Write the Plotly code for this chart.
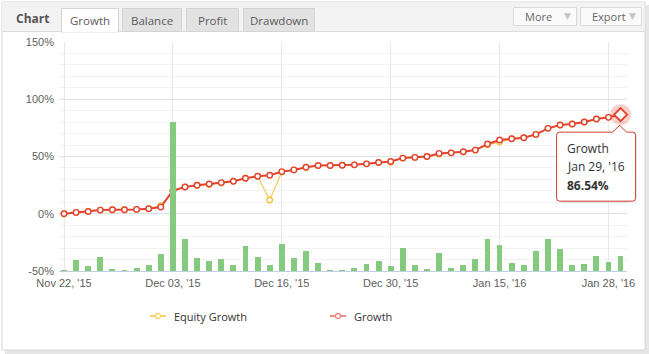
import plotly.graph_objects as go

# ---------------- data ----------------
dates = ["Nov 22, '15", "Nov 23, '15", "Nov 24, '15", "Nov 25, '15", "Nov 26, '15",
         "Nov 27, '15", "Nov 30, '15", "Dec 01, '15", "Dec 02, '15", "Dec 03, '15",
         "Dec 04, '15", "Dec 07, '15", "Dec 08, '15", "Dec 09, '15", "Dec 10, '15",
         "Dec 11, '15", "Dec 14, '15", "Dec 15, '15", "Dec 16, '15", "Dec 17, '15",
         "Dec 18, '15", "Dec 21, '15", "Dec 22, '15", "Dec 23, '15", "Dec 24, '15",
         "Dec 28, '15", "Dec 29, '15", "Dec 30, '15", "Dec 31, '15", "Jan 04, '16",
         "Jan 05, '16", "Jan 06, '16", "Jan 07, '16", "Jan 11, '16", "Jan 12, '16",
         "Jan 13, '16", "Jan 15, '16", "Jan 18, '16", "Jan 19, '16", "Jan 20, '16",
         "Jan 21, '16", "Jan 22, '16", "Jan 25, '16", "Jan 26, '16", "Jan 27, '16",
         "Jan 28, '16", "Jan 29, '16"]

growth = [0, 1.2, 2.0, 3.2, 3.5, 3.5, 3.8, 4.4, 5.8, 20.2,
          23.4, 24.9, 26.0, 27.2, 28.4, 31.0, 32.7, 33.6, 36.8, 38.3,
          40.6, 42.1, 42.1, 42.4, 42.7, 43.6, 44.8, 45.6, 48.6, 49.2,
          50.0, 52.7, 53.2, 54.1, 55.6, 60.9, 64.4, 65.5, 66.4, 69.3,
          74.6, 77.5, 78.4, 80.1, 82.8, 84.2, 86.54]

equity = [0, 1.2, 2.0, 3.2, 3.5, 3.5, 3.8, 4.4, 7.0, 20.2,
          23.4, 24.9, 25.4, 26.8, 28.4, 31.0, 32.7, 12.0, 36.3, 38.3,
          40.6, 42.1, 42.1, 42.4, 42.7, 43.6, 44.8, 45.0, 48.6, 49.2,
          50.0, 51.8, 53.2, 54.1, 55.6, 60.2, 62.5, 65.5, 66.4, 69.3,
          74.6, 77.5, 78.4, 80.1, 82.8, 84.2, 86.54]

bars = [0.5, 9.3, 4.6, 12.5, 2.0, 0.5, 2.9, 5.5, 15.1, 130.0,
        28.2, 11.6, 9.0, 10.7, 5.5, 22.1, 12.5, 5.5, 23.3, 11.6,
        17.2, 7.2, 0.5, 0.5, 2.9, 6.4, 9.0, 4.6, 20.3, 5.5,
        2.0, 16.0, 2.9, 5.5, 10.7, 28.2, 23.0, 7.2, 5.5, 17.7,
        28.2, 19.5, 5.5, 6.4, 13.4, 8.1, 13.4]

y_ticks = [-50, 0, 50, 100, 150]
y_labels = ["-50%", "0%", "50%", "100%", "150%"]
x_tick_idx = [0, 9, 18, 27, 36, 45]
tabs = ["Growth", "Balance", "Profit", "Drawdown"]

# ---------------- geometry helpers ----------------
W, H = 649, 354
L, R, T, B = 59, 22, 42, 83
PW, PH = W - L - R, H - T - B
XR = [-0.413, 46.53]
YR = [-50, 150]


def px(x):
    return (x - L) / PW


def py(y):
    return (H - B - y) / PH


RED = "#e2432e"
YEL = "#f7be2c"
GREEN = "#86ca7f"

fig = go.Figure()

fig.add_trace(go.Bar(x=dates, y=bars, yaxis="y2", marker_color=GREEN,
                     marker_line_width=0, width=0.48, showlegend=False,
                     hoverinfo="skip"))
fig.add_trace(go.Scatter(x=dates, y=equity, mode="lines+markers", name="Equity Growth",
                         line=dict(color=YEL, width=1),
                         marker=dict(symbol="circle", size=5.5, color="white",
                                     line=dict(color=YEL, width=1.3)),
                         showlegend=False))
fig.add_trace(go.Scatter(x=dates, y=growth, mode="lines+markers", name="Growth",
                         line=dict(color=RED, width=2),
                         marker=dict(symbol="circle", size=5.5, color="white",
                                     line=dict(color=RED, width=1.4)),
                         showlegend=False))
# hover halo + diamond on last point
fig.add_trace(go.Scatter(x=[dates[-1]], y=[growth[-1]], mode="markers", cliponaxis=False,
                         marker=dict(size=21, color="rgba(226,67,46,0.25)", line_width=0),
                         showlegend=False, hoverinfo="skip"))
fig.add_trace(go.Scatter(x=[dates[-1]], y=[growth[-1]], mode="markers", cliponaxis=False,
                         marker=dict(symbol="diamond", size=10, color="white",
                                     line=dict(color=RED, width=2)),
                         showlegend=False, hoverinfo="skip"))

shapes = []
annotations = []

# panel frame and shadow
shapes.append(dict(type="rect", xref="paper", yref="paper", layer="below",
                   x0=px(645), x1=px(649), y0=py(350), y1=py(5),
                   fillcolor="#e6e6e6", line_width=0))
shapes.append(dict(type="rect", xref="paper", yref="paper", layer="below",
                   x0=px(5), x1=px(649), y0=py(354), y1=py(350),
                   fillcolor="#e6e6e6", line_width=0))
shapes.append(dict(type="rect", xref="paper", yref="paper", layer="below",
                   x0=px(2), x1=px(645), y0=py(350), y1=py(2),
                   fillcolor="white", line=dict(color="#d6d6d6", width=1)))
# header band
shapes.append(dict(type="rect", xref="paper", yref="paper", layer="below",
                   x0=px(2.5), x1=px(644.5), y0=py(31.5), y1=py(2.5),
                   fillcolor="#f3f3f3", line_width=0))
shapes.append(dict(type="line", xref="paper", yref="paper", layer="below",
                   x0=px(2.5), x1=px(644.5), y0=py(31.5), y1=py(31.5),
                   line=dict(color="#dcdcdc", width=1)))

tab_x = [(61.5, 118.5), (122.5, 181.5), (186.5, 238.5), (243.5, 314.5)]
for i, (name, (a, b)) in enumerate(zip(tabs, tab_x)):
    active = i == 0
    shapes.append(dict(type="rect", xref="paper", yref="paper", layer="below",
                       x0=px(a), x1=px(b), y0=py(32 if active else 31.5), y1=py(8.5),
                       fillcolor="white" if active else "#e2e2e2",
                       line=dict(color="#d4d4d4", width=1)))
    if active:
        shapes.append(dict(type="line", xref="paper", yref="paper", layer="below",
                           x0=px(a + 0.6), x1=px(b - 0.6), y0=py(31.5), y1=py(31.5),
                           line=dict(color="white", width=1.5)))
    annotations.append(dict(xref="paper", yref="paper", x=px((a + b) / 2), y=py(20),
                            text=name, showarrow=False, xanchor="center", yanchor="middle",
                            font=dict(family="Open Sans", size=11.5, color="#5a5a5a")))

annotations.append(dict(xref="paper", yref="paper", x=px(14), y=py(18.5),
                        text="<b>Chart</b>", showarrow=False, xanchor="left",
                        yanchor="middle",
                        font=dict(family="Open Sans", size=12, color="#555555")))

for (a, b, label) in [(513.5, 576.5, "More"), (580.5, 641.5, "Export")]:
    shapes.append(dict(type="rect", xref="paper", yref="paper", layer="below",
                       x0=px(a), x1=px(b), y0=py(25.5), y1=py(7.5),
                       fillcolor="#fafafa", line=dict(color="#dadada", width=1)))
    annotations.append(dict(xref="paper", yref="paper", x=px(a + 9), y=py(16.5),
                            text=label, showarrow=False, xanchor="left", yanchor="middle",
                            font=dict(family="Open Sans", size=11, color="#666666")))
    annotations.append(dict(xref="paper", yref="paper", x=px(b - 9), y=py(16.5),
                            text="▼", showarrow=False, xanchor="center", yanchor="middle",
                            font=dict(family="DejaVu Sans", size=9, color="#c4c4c4")))

# legend (manual)
for (x0, color, label) in [(150, "#f9d26e", "Equity Growth"), (330, "#ea8d82", "Growth")]:
    shapes.append(dict(type="line", xref="paper", yref="paper",
                       x0=px(x0), x1=px(x0 + 16), y0=py(316), y1=py(316),
                       line=dict(color=color, width=2)))
    shapes.append(dict(type="circle", xref="paper", yref="paper",
                       x0=px(x0 + 5.5), x1=px(x0 + 10.5), y0=py(318.5), y1=py(313.5),
                       fillcolor="white", line=dict(color=color, width=1.3)))
    annotations.append(dict(xref="paper", yref="paper", x=px(x0 + 22), y=py(316),
                            text=label, showarrow=False, xanchor="left", yanchor="middle",
                            font=dict(family="Open Sans", size=11, color="#333333")))

# tooltip callout anchored at last growth point (domain refs so it is not clipped)
ax_frac = (len(dates) - 1 - XR[0]) / (XR[1] - XR[0])
ay_frac = (growth[-1] - YR[0]) / (YR[1] - YR[0])
shapes.append(dict(type="path", xref="x domain", yref="y domain",
                   xsizemode="pixel", ysizemode="pixel",
                   xanchor=ax_frac, yanchor=ay_frac,
                   path=("M -59,-19.5 L -9,-19.5 L 16,-19.5 "
                         "L 16,-88.5 L -59,-88.5 Z"),
                   fillcolor="rgba(0,0,0,0.07)", line_width=0))
shapes.append(dict(type="path", xref="x domain", yref="y domain",
                   xsizemode="pixel", ysizemode="pixel",
                   xanchor=ax_frac, yanchor=ay_frac,
                   path=("M -61,-17.5 L -8,-17.5 L -1,-10.5 L 6,-17.5 L 12,-17.5 "
                         "Q 15,-17.5 15,-20.5 L 15,-83.5 Q 15,-86.5 12,-86.5 "
                         "L -61,-86.5 Q -64,-86.5 -64,-83.5 L -64,-20.5 "
                         "Q -64,-17.5 -61,-17.5 Z"),
                   fillcolor="white", line=dict(color="#cf3d2e", width=1)))
tip_lines = ["Growth", dates[-1], "<b>%.2f%%</b>" % growth[-1]]
for txt, dy in zip(tip_lines, [-33.5, -52, -70.5]):
    annotations.append(dict(xref="x", yref="y", x=dates[-1], y=growth[-1],
                            xshift=-56, yshift=dy, text=txt, showarrow=False,
                            xanchor="left", yanchor="middle",
                            font=dict(family="Open Sans", size=12, color="#333333")))

fig.update_layout(
    width=W, height=H,
    margin=dict(l=L, r=R, t=T, b=B, pad=0),
    paper_bgcolor="white",
    plot_bgcolor="rgba(0,0,0,0)",
    showlegend=False,
    bargap=0,
    xaxis=dict(type="category", range=XR,
               tickmode="array", tickvals=[dates[i] for i in x_tick_idx],
               ticktext=[dates[i] for i in x_tick_idx],
               showgrid=True, gridcolor="#e8e8e8", gridwidth=1,
               showline=True, linecolor="#c0d0e0", linewidth=1,
               ticks="", ticklabelstandoff=2,
               tickfont=dict(family="Liberation Sans", size=11, color="#606060"),
               zeroline=False, fixedrange=True),
    yaxis=dict(range=YR, tickmode="array", tickvals=y_ticks, ticktext=y_labels,
               showgrid=True, gridcolor="#e0e0e0", gridwidth=1,
               minor=dict(dtick=10, tick0=0, showgrid=True, gridcolor="#f3f3f3", gridwidth=1),
               zeroline=False, showline=False, ticks="",
               ticklabelstandoff=4,
               tickfont=dict(family="Liberation Sans", size=11, color="#606060"),
               fixedrange=True),
    yaxis2=dict(range=[0, 200], overlaying="y", visible=False, fixedrange=True),
    shapes=shapes,
    annotations=annotations,
    hovermode=False,
)

fig.write_html("out.html", config={"displayModeBar": False})
